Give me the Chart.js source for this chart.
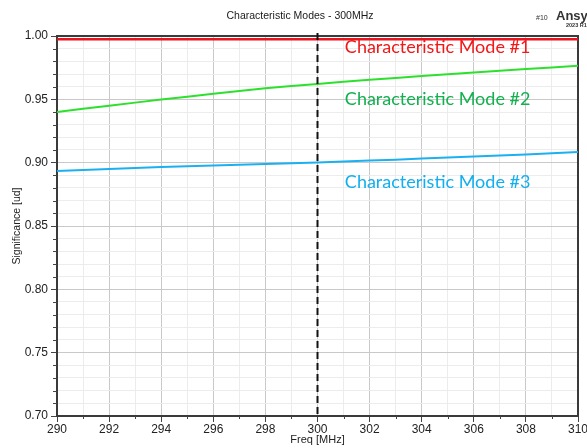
<!DOCTYPE html>
<html>
<head>
<meta charset="utf-8">
<script src="https://cdn.jsdelivr.net/npm/chart.js@4.4.0/dist/chart.umd.min.js"></script>
<style>
  html, body { margin: 0; padding: 0; background: #fff; overflow: hidden; }
  #wrap { width: 600px; height: 448px; }
</style>
</head>
<body>
<div id="wrap"><canvas id="chart"></canvas></div>
<script>
// frequency sweep (MHz) and significance of each characteristic mode
const freqs = [290, 291, 292, 293, 294, 295, 296, 297, 298, 299, 300, 301, 302, 303, 304, 305, 306, 307, 308, 309, 310]
const mode1 = [0.9975, 0.9975, 0.9975, 0.9975, 0.9975, 0.9975, 0.9975, 0.9975, 0.9975, 0.9975, 0.9975,
               0.9975, 0.9975, 0.9975, 0.9975, 0.9975, 0.9975, 0.9975, 0.9975, 0.9975, 0.9975]
const mode2 = [0.9400, 0.9425, 0.9450, 0.9474, 0.9498, 0.9521, 0.9544, 0.9566, 0.9587, 0.9605, 0.9622,
               0.9638, 0.9654, 0.9669, 0.9684, 0.9698, 0.9712, 0.9726, 0.9739, 0.9752, 0.9765]
const mode3 = [0.8935, 0.8942, 0.8950, 0.8957, 0.8965, 0.8971, 0.8978, 0.8984, 0.8990, 0.8996, 0.9002,
               0.9009, 0.9017, 0.9024, 0.9032, 0.9040, 0.9048, 0.9056, 0.9065, 0.9075, 0.9085]
const modeNames = ['Characteristic Mode #1', 'Characteristic Mode #2', 'Characteristic Mode #3']
const xTickLabels = [290, 292, 294, 296, 298, 300, 302, 304, 306, 308, 310]
const yTickLabels = [0.70, 0.75, 0.80, 0.85, 0.90, 0.95, 1.00]
const markerFreq = 300

const lineColors = ['#e8141e', '#2ee02e', '#1cb0f0']
const textColors = ['#f01818', '#12b04e', '#10aff0']

function isMajorX(v) {
    return xTickLabels.some(t => Math.abs(t - v) < 1e-6)
}
function isMajorY(v) {
    return yTickLabels.some(t => Math.abs(t - v) < 1e-6)
}
function toPoints(vals) {
    return freqs.map((f, i) => ({x: f, y: vals[i]}))
}

const decor = {
    id: 'decor',
    beforeDatasetsDraw(chart) {
        const {ctx, chartArea: a, scales: {x, y}} = chart
        ctx.save()
        // short minor tick marks
        ctx.strokeStyle = '#444'
        ctx.lineWidth = 1
        ctx.beginPath()
        x.ticks.forEach(t => {
            if (!isMajorX(t.value)) {
                const px = Math.round(x.getPixelForValue(t.value)) + 0.5
                ctx.moveTo(px, a.bottom)
                ctx.lineTo(px, a.bottom + 3)
            }
        })
        y.ticks.forEach(t => {
            if (!isMajorY(t.value)) {
                const py = Math.round(y.getPixelForValue(t.value)) + 0.5
                ctx.moveTo(a.left, py)
                ctx.lineTo(a.left - 4, py)
            }
        })
        ctx.stroke()
        // top and right frame
        ctx.strokeStyle = '#3a3a3a'
        ctx.lineWidth = 2
        ctx.beginPath()
        ctx.moveTo(a.left, a.top)
        ctx.lineTo(a.right, a.top)
        ctx.lineTo(a.right, a.bottom)
        ctx.stroke()
        ctx.restore()
    },
    afterDatasetsDraw(chart) {
        const {ctx, chartArea: a, scales: {x, y}} = chart
        ctx.save()
        // marker line
        const mx = x.getPixelForValue(markerFreq)
        ctx.strokeStyle = '#111'
        ctx.lineWidth = 2
        ctx.setLineDash([7, 4])
        ctx.beginPath()
        ctx.moveTo(mx, a.top - 3)
        ctx.lineTo(mx, a.bottom)
        ctx.stroke()
        ctx.setLineDash([])
        // mode names
        const levels = [0.9913, 0.9503, 0.8847]
        ctx.font = '18px Lato'
        ctx.textBaseline = 'middle'
        ctx.textAlign = 'left'
        modeNames.forEach((name, i) => {
            ctx.fillStyle = textColors[i]
            ctx.fillText(name, x.getPixelForValue(301.05), y.getPixelForValue(levels[i]))
        })
        ctx.restore()
    },
    afterDraw(chart) {
        const {ctx} = chart
        ctx.save()
        ctx.fillStyle = '#1a1a1a'
        ctx.textBaseline = 'middle'
        ctx.textAlign = 'center'
        ctx.font = '10.5px "Liberation Sans", Arial'
        ctx.fillText('Characteristic Modes - 300MHz', 300, 16)
        ctx.textAlign = 'left'
        ctx.fillStyle = '#333'
        ctx.font = '7px "Liberation Sans", Arial'
        ctx.fillText('#10', 536, 18)
        ctx.font = 'bold 13px "Liberation Sans", Arial'
        ctx.fillText('Ansys', 556, 16)
        ctx.font = 'bold 5.5px "Liberation Sans", Arial'
        ctx.fillText('2023 R1', 566, 25)
        ctx.restore()
    }
}

new Chart(document.getElementById('chart'), {
    type: 'line',
    data: {
        datasets: [0, 1, 2].map(i => ({
            label: modeNames[i],
            data: toPoints([mode1, mode2, mode3][i]),
            borderColor: lineColors[i],
            borderWidth: i == 0 ? 2.5 : 2,
            pointRadius: 0,
            tension: 0
        }))
    },
    options: {
        responsive: true,
        maintainAspectRatio: false,
        animation: false,
        layout: {padding: {top: 36, right: 22, left: 0, bottom: 0}},
        plugins: {
            legend: {display: false},
            tooltip: {enabled: false}
        },
        scales: {
            x: {
                type: 'linear',
                min: 290,
                max: 310,
                afterFit: s => { s.height = 32 },
                ticks: {
                    stepSize: 1,
                    autoSkip: false,
                    maxRotation: 0,
                    padding: 0,
                    color: '#222',
                    font: {family: '"Liberation Sans", Arial', size: 12},
                    callback: v => isMajorX(v) ? String(v) : ''
                },
                grid: {
                    color: c => isMajorX(c.tick.value) ? '#c9c9c9' : '#ececec',
                    tickColor: c => isMajorX(c.tick.value) ? '#444' : 'transparent',
                    tickLength: 6
                },
                border: {color: '#3a3a3a', width: 2},
                title: {
                    display: true,
                    text: 'Freq [MHz]',
                    color: '#222',
                    font: {family: '"Liberation Sans", Arial', size: 11},
                    padding: {top: 0, bottom: 1}
                }
            },
            y: {
                min: 0.70,
                max: 1.00,
                afterFit: s => { s.width = 57 },
                ticks: {
                    stepSize: 0.01,
                    maxTicksLimit: 100,
                    autoSkip: false,
                    padding: 3,
                    color: '#222',
                    font: {family: '"Liberation Sans", Arial', size: 12},
                    callback: v => isMajorY(v) ? v.toFixed(2) : ''
                },
                grid: {
                    color: c => isMajorY(c.tick.value) ? '#c9c9c9' : '#ececec',
                    tickColor: c => isMajorY(c.tick.value) ? '#444' : 'transparent',
                    tickLength: 6
                },
                border: {color: '#3a3a3a', width: 2},
                title: {
                    display: true,
                    text: 'Significance [ud]',
                    color: '#222',
                    font: {family: '"Liberation Sans", Arial', size: 10.5},
                    padding: {top: 10.5, bottom: 0}
                }
            }
        }
    },
    plugins: [decor]
})
</script>
</body>
</html>
